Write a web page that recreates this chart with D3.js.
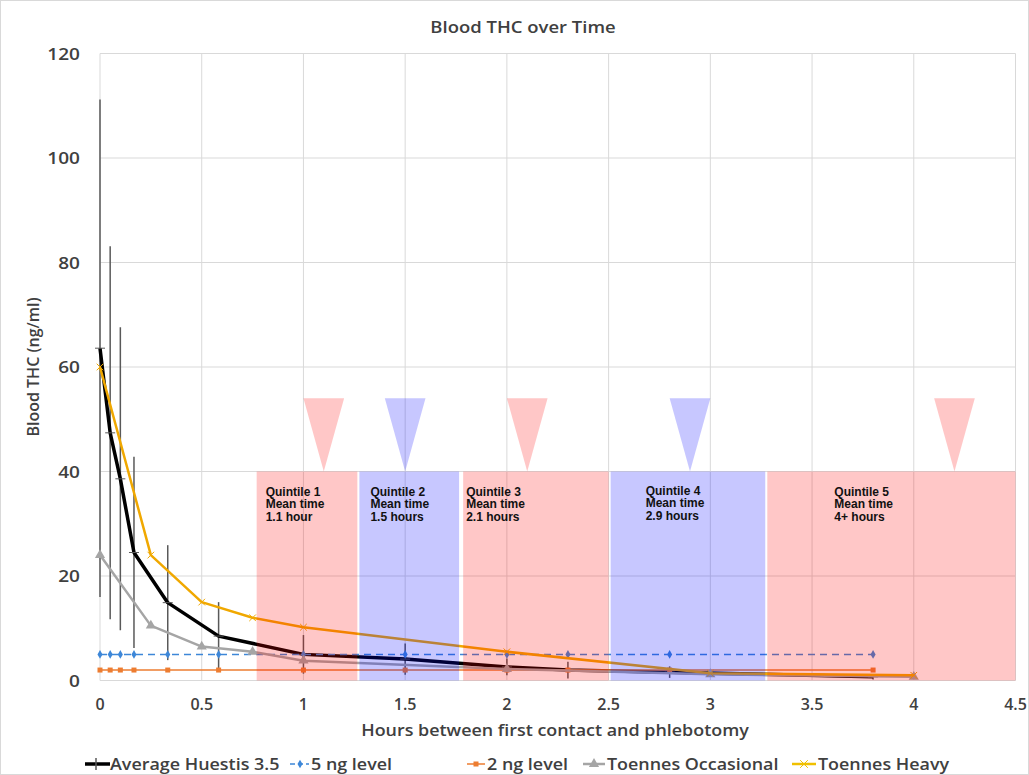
<!DOCTYPE html>
<html>
<head>
<meta charset="utf-8">
<script src="https://cdn.jsdelivr.net/npm/d3@7"></script>
<style>
  body { margin: 0; background: #fff; }
  svg { display: block; }
  .tick-label, .legend-label, .axis-title { font-family: "Open Sans", "DejaVu Sans", sans-serif; font-weight: 600; fill: #404040; }
  .q-label { font-family: "Liberation Sans", Arial, sans-serif; font-weight: bold; font-size: 12px; fill: #111; }
</style>
</head>
<body>
<div id="chart"></div>
<script>
// Average Huestis 3.5 (mean +/- error)
const huestisHours = [0, 0.05, 0.1, 0.167, 0.333, 0.583, 1, 1.5, 2, 2.3, 2.8, 3.8];
const huestisMean = [63.6, 47.4, 38.6, 24.5, 14.9, 8.5, 5.0, 4.1, 2.6, 2.0, 1.6, 0.7];
const huestisErr = [47.6, 35.7, 29.0, 18.3, 11.0, 6.5, 3.7, 3.0, 1.6, 1.6, 1.1, 0.5];

// reference levels (same time points as Huestis)
const level5 = [5, 5, 5, 5, 5, 5, 5, 5, 5, 5, 5, 5];
const level2 = [2, 2, 2, 2, 2, 2, 2, 2, 2, 2, 2, 2];

// Toennes
const toennesHours = [0, 0.25, 0.5, 0.75, 1, 2, 3, 4];
const toennesOccasional = [24, 10.5, 6.5, 5.5, 3.8, 2.2, 1.2, 0.7];
const toennesHeavy = [60, 24, 15, 12, 10.2, 5.5, 1.4, 1.0];

// quintile bands
const quintileNames = ["Quintile 1", "Quintile 2", "Quintile 3", "Quintile 4", "Quintile 5"];
const quintileTimes = ["1.1 hour", "1.5 hours", "2.1 hours", "2.9 hours", "4+ hours"];
const quintileStart = [0.77, 1.275, 1.785, 2.51, 3.28];
const quintileEnd = [1.265, 1.765, 2.5, 3.27, 4.5];
const quintileMean = [1.1, 1.5, 2.1, 2.9, 4.2];
const quintileTop = 40;
const arrowTop = 54;

const xTicks = [0, 0.5, 1, 1.5, 2, 2.5, 3, 3.5, 4, 4.5];
const yTicks = [0, 20, 40, 60, 80, 100, 120];
const legendNames = ["Average Huestis 3.5", "5 ng level", "2 ng level", "Toennes Occasional", "Toennes Heavy"];

const width = 1029;
const height = 775;
const gridColor = "#d9d9d9";
const pinkFill = "rgba(255,0,0,0.22)";
const blueFill = "rgba(0,0,255,0.22)";
const stretch = 1.12; // the source text is a little wider than tall

const svg = d3.select("#chart").append("svg")
  .attr("width", width)
  .attr("height", height);

// chart border
svg.append("rect")
  .attr("x", 0.5).attr("y", 0.5)
  .attr("width", width - 1).attr("height", height - 1)
  .attr("fill", "#fff").attr("stroke", gridColor);

const x = d3.scaleLinear().domain([0, 4.5]).range([100, 1015.5]);
const y = d3.scaleLinear().domain([0, 120]).range([680.5, 53.5]);

// gridlines
svg.append("g").selectAll("line").data(yTicks).join("line")
  .attr("x1", x(0)).attr("x2", x(4.5))
  .attr("y1", d => y(d)).attr("y2", d => y(d))
  .attr("stroke", gridColor).attr("stroke-width", 1);
svg.append("g").selectAll("line").data(xTicks).join("line")
  .attr("x1", d => x(d)).attr("x2", d => x(d))
  .attr("y1", y(0)).attr("y2", y(120))
  .attr("stroke", gridColor).attr("stroke-width", 1);

// tick labels
svg.append("g").selectAll("text").data(yTicks).join("text")
  .attr("class", "tick-label")
  .attr("transform", d => `translate(80,${y(d)}) scale(${stretch},1)`)
  .attr("dy", "0.36em")
  .attr("text-anchor", "end")
  .attr("font-size", 17).attr("font-weight", 700)
  .text(d => d);
svg.append("g").selectAll("text").data(xTicks).join("text")
  .attr("class", "tick-label")
  .attr("x", d => x(d)).attr("y", 710)
  .attr("text-anchor", "middle")
  .attr("font-size", 16)
  .text(d => d);

// axis titles
svg.append("text").attr("class", "axis-title")
  .attr("transform", `translate(523,33) scale(${stretch},1)`)
  .attr("text-anchor", "middle")
  .attr("font-size", 16.5).attr("font-weight", 700)
  .text("Blood THC over Time");
svg.append("text").attr("class", "axis-title")
  .attr("transform", `translate(555,736) scale(${stretch},1)`)
  .attr("text-anchor", "middle")
  .attr("font-size", 16)
  .text("Hours between first contact and phlebotomy");
svg.append("text").attr("class", "axis-title")
  .attr("transform", `translate(39,${y(60)}) rotate(-90)`)
  .attr("text-anchor", "middle")
  .attr("font-size", 16)
  .text("Blood THC (ng/ml)");

const line = d3.line().x(d => x(d[0])).y(d => y(d[1]));
const huestis = huestisHours.map((h, i) => [h, huestisMean[i], huestisErr[i]]);
const lvl5 = huestisHours.map((h, i) => [h, level5[i]]);
const lvl2 = huestisHours.map((h, i) => [h, level2[i]]);
const occ = toennesHours.map((h, i) => [h, toennesOccasional[i]]);
const heavy = toennesHours.map((h, i) => [h, toennesHeavy[i]]);

// Huestis error bars + line
svg.append("g").selectAll("line").data(huestis).join("line")
  .attr("x1", d => x(d[0])).attr("x2", d => x(d[0]))
  .attr("y1", d => y(d[1] + d[2])).attr("y2", d => y(Math.max(0, d[1] - d[2])))
  .attr("stroke", "#595959").attr("stroke-width", 1.5);
svg.append("path").datum(huestis)
  .attr("d", line).attr("fill", "none")
  .attr("stroke", "#000").attr("stroke-width", 3.5).attr("stroke-linejoin", "round");
svg.append("g").selectAll("line").data(huestis).join("line")
  .attr("x1", d => x(d[0]) - 5).attr("x2", d => x(d[0]) + 5)
  .attr("y1", d => y(d[1])).attr("y2", d => y(d[1]))
  .attr("stroke", "#595959").attr("stroke-width", 1);

// 5 ng level
svg.append("path").datum(lvl5)
  .attr("d", line).attr("fill", "none")
  .attr("stroke", "#3d87d8").attr("stroke-width", 1.5).attr("stroke-dasharray", "7,5");
svg.append("g").selectAll("path").data(lvl5).join("path")
  .attr("transform", d => `translate(${x(d[0])},${y(d[1])})`)
  .attr("d", d3.symbol(d3.symbolDiamond, 22))
  .attr("fill", "#3d87d8");

// 2 ng level
svg.append("path").datum(lvl2)
  .attr("d", line).attr("fill", "none")
  .attr("stroke", "#ed7d31").attr("stroke-width", 1.5);
svg.append("g").selectAll("rect").data(lvl2).join("rect")
  .attr("x", d => x(d[0]) - 2.5).attr("y", d => y(d[1]) - 2.5)
  .attr("width", 5).attr("height", 5)
  .attr("fill", "#ed7d31");

// Toennes Occasional
svg.append("path").datum(occ)
  .attr("d", line).attr("fill", "none")
  .attr("stroke", "#a5a5a5").attr("stroke-width", 2.5).attr("stroke-linejoin", "round");
svg.append("g").selectAll("path").data(occ).join("path")
  .attr("transform", d => `translate(${x(d[0])},${y(d[1])})`)
  .attr("d", d3.symbol(d3.symbolTriangle, 45))
  .attr("fill", "#a5a5a5");

// Toennes Heavy
svg.append("path").datum(heavy)
  .attr("d", line).attr("fill", "none")
  .attr("stroke", "#f0a800").attr("stroke-width", 2.5).attr("stroke-linejoin", "round");
svg.append("g").selectAll("path").data(heavy).join("path")
  .attr("transform", d => `translate(${x(d[0])},${y(d[1])})`)
  .attr("d", d3.symbol(d3.symbolTimes, 30))
  .attr("fill", "none").attr("stroke", "#f0a800").attr("stroke-width", 1);

// quintile overlays (drawn over the lines, semi transparent)
const quintiles = quintileNames.map((name, i) => ({
  name, time: quintileTimes[i], x0: quintileStart[i], x1: quintileEnd[i], mean: quintileMean[i],
  fill: i % 2 === 0 ? pinkFill : blueFill
}));
const labelOffsets = [9, 11, 3, 35, 67];

const qg = svg.append("g");
qg.selectAll("rect").data(quintiles).join("rect")
  .attr("x", d => x(d.x0)).attr("y", y(quintileTop))
  .attr("width", d => x(d.x1) - x(d.x0))
  .attr("height", y(0) - y(quintileTop))
  .attr("fill", d => d.fill);
qg.selectAll("path").data(quintiles).join("path")
  .attr("d", d => `M${x(d.mean - 0.1)},${y(arrowTop)}L${x(d.mean + 0.1)},${y(arrowTop)}L${x(d.mean)},${y(quintileTop)}Z`)
  .attr("fill", d => d.fill);
qg.selectAll("text").data(quintiles).join("text")
  .attr("class", "q-label")
  .attr("x", (d, i) => x(d.x0) + labelOffsets[i])
  .attr("y", (d, i) => y(quintileTop) + 24 + (i === 3 ? -1 : 0))
  .each(function (d) {
    const t = d3.select(this);
    [d.name, "Mean time", d.time].forEach((s, k) => {
      t.append("tspan").attr("x", t.attr("x")).attr("dy", k === 0 ? 0 : 12.5).text(s);
    });
  });

// legend
const legendSym = [85, 290, 467, 583, 792];
const legendText = [110, 311, 487, 607, 818];
const lg = svg.append("g").attr("transform", "translate(0,764)");
legendNames.forEach((name, i) => {
  const g = lg.append("g").attr("transform", `translate(${legendSym[i]},0)`);
  if (i === 0) {
    g.append("line").attr("x1", 0).attr("x2", 25).attr("stroke", "#000").attr("stroke-width", 3.5);
    g.append("line").attr("x1", 11).attr("x2", 11).attr("y1", -6).attr("y2", 6).attr("stroke", "#595959").attr("stroke-width", 1.5);
  } else if (i === 1) {
    g.append("line").attr("x1", 0).attr("x2", 19).attr("stroke", "#3d87d8").attr("stroke-width", 1.5).attr("stroke-dasharray", "5,3");
    g.append("path").attr("transform", "translate(10,0)").attr("d", d3.symbol(d3.symbolDiamond, 22)).attr("fill", "#3d87d8");
  } else if (i === 2) {
    g.append("line").attr("x1", 0).attr("x2", 18).attr("stroke", "#ed7d31").attr("stroke-width", 1.5);
    g.append("rect").attr("x", 6.5).attr("y", -2.5).attr("width", 5).attr("height", 5).attr("fill", "#ed7d31");
  } else if (i === 3) {
    g.append("line").attr("x1", 0).attr("x2", 22).attr("stroke", "#a5a5a5").attr("stroke-width", 2.5);
    g.append("path").attr("transform", "translate(11,0)").attr("d", d3.symbol(d3.symbolTriangle, 45)).attr("fill", "#a5a5a5");
  } else {
    g.append("line").attr("x1", 0).attr("x2", 24).attr("stroke", "#f0c000").attr("stroke-width", 2.5);
    g.append("path").attr("transform", "translate(12,0)").attr("d", d3.symbol(d3.symbolTimes, 40)).attr("fill", "none").attr("stroke", "#f0c000").attr("stroke-width", 1);
  }
  lg.append("text").attr("class", "legend-label")
    .attr("transform", `translate(${legendText[i]},0) scale(${stretch},1)`)
    .attr("dy", "0.36em")
    .attr("font-size", 16)
    .text(name);
});
</script>
</body>
</html>
